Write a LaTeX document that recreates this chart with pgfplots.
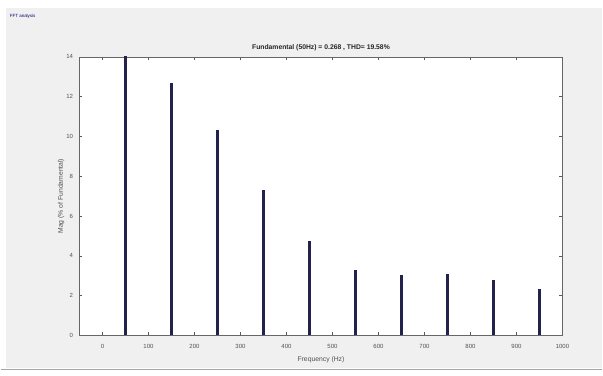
\documentclass[border=0pt]{standalone}
\usepackage{pgfplots}
\pgfplotsset{compat=1.18}
\usepackage{fontspec}
\setmainfont{Liberation Sans}
\definecolor{panelgray}{RGB}{240,240,240}
\definecolor{barnavy}{RGB}{34,34,76}
\definecolor{ticktext}{RGB}{80,80,80}
\begin{document}
\begin{tikzpicture}
  % window frame
  \fill[white] (0pt,0pt) rectangle (603pt,376pt);
  \fill[panelgray] (5pt,7pt) rectangle (603pt,368pt);
  \draw[gray!70,line width=1.2pt] (0pt,6pt) -- (603pt,6pt);
  \node[anchor=west,font=\fontsize{4.5}{5}\selectfont,text=blue!45!black,inner sep=0pt] at (9pt,360pt) {FFT analysis};
  % spectrum
  \begin{axis}[
    at={(79pt,40pt)}, anchor=south west,
    scale only axis, width=484pt, height=279pt,
    xmin=-50, xmax=1000, ymin=0, ymax=14,
    xtick={0,100,...,1000}, ytick={0,2,...,14},
    /pgf/number format/1000 sep={},
    tick align=inside, major tick length=3pt,
    tick style={gray!70!black, line width=0.4pt},
    axis line style={gray!80!black, line width=0.5pt},
    axis background/.style={fill=white},
    tick label style={font=\fontsize{6}{7}\selectfont, text=ticktext},
    /pgf/number format/assume math mode=true,
    xticklabel style={yshift=-5pt},
    yticklabel style={xshift=-3pt},
    title={Fundamental (50Hz) = 0.268 , THD= 19.58\%},
    title style={font=\bfseries\fontsize{6.8}{7}\selectfont, yshift=-4pt, text=black!85},
    xlabel={Frequency (Hz)},
    ylabel={Mag (\% of Fundamental)},
    label style={font=\fontsize{6.8}{7}\selectfont, text=ticktext},
    xlabel style={yshift=-2pt},
    ylabel style={yshift=-5pt},
  ]
    \addplot+[ycomb, mark=none, color=barnavy, line width=2.6pt] coordinates {
      (50,100) (150,12.7) (250,10.3) (350,7.33) (450,4.72)
      (550,3.31) (650,3.01) (750,3.06) (850,2.76) (950,2.31)
    };
  \end{axis}
\end{tikzpicture}
\end{document}
